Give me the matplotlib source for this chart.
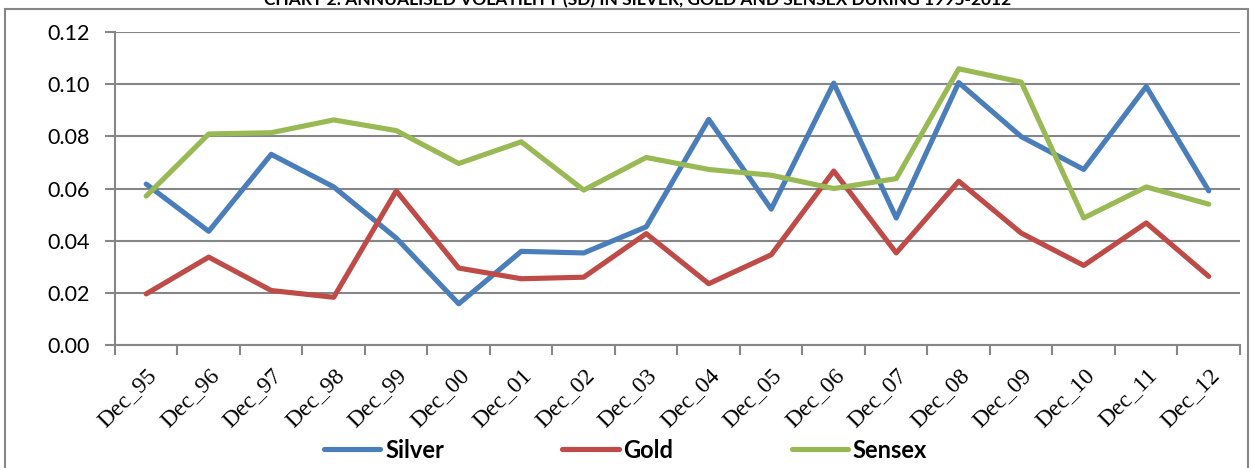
import numpy as np
import matplotlib
matplotlib.use("Agg")
import matplotlib.pyplot as plt
from matplotlib.patches import Rectangle
from matplotlib.transforms import ScaledTranslation

# category labels and annualised volatility (SD) values
years = ["Dec_95", "Dec_96", "Dec_97", "Dec_98", "Dec_99", "Dec_00", "Dec_01",
         "Dec_02", "Dec_03", "Dec_04", "Dec_05", "Dec_06", "Dec_07", "Dec_08",
         "Dec_09", "Dec_10", "Dec_11", "Dec_12"]
silver = [0.0617, 0.0436, 0.0731, 0.0606, 0.0410, 0.0158, 0.0359, 0.0353, 0.0453,
          0.0865, 0.0521, 0.1004, 0.0487, 0.1006, 0.0799, 0.0673, 0.0991, 0.0591]
gold = [0.0196, 0.0337, 0.0209, 0.0183, 0.0591, 0.0295, 0.0254, 0.0260, 0.0427,
        0.0235, 0.0346, 0.0667, 0.0353, 0.0628, 0.0429, 0.0305, 0.0468, 0.0263]
sensex = [0.0571, 0.0809, 0.0814, 0.0863, 0.0822, 0.0696, 0.0779, 0.0594, 0.0719,
          0.0673, 0.0651, 0.0600, 0.0638, 0.1059, 0.1008, 0.0487, 0.0606, 0.0540]
yticks = [0.00, 0.02, 0.04, 0.06, 0.08, 0.10, 0.12]

fig = plt.figure(figsize=(12.51, 4.68), dpi=100)
ax = fig.add_axes([0.0919, 0.2628, 0.8993, 0.6688])

x = np.arange(len(years))
grey = "#868686"
ax.plot(x, silver, color="#4A7EBB", lw=3.7, label="Silver", solid_capstyle="round")
ax.plot(x, gold, color="#BE4B48", lw=3.7, label="Gold", solid_capstyle="round")
ax.plot(x, sensex, color="#98B954", lw=3.7, label="Sensex", solid_capstyle="round")

ax.set_xlim(-0.5, len(years) - 0.5)
ax.set_ylim(0, 0.12)
ax.set_yticks(yticks)
ax.set_yticklabels(["%.2f" % v for v in yticks], fontfamily="Lato", fontsize=15.5)
ax.yaxis.grid(True, color=grey, lw=1.5)
ax.set_axisbelow(True)
ax.tick_params(axis="y", length=7, width=1.5, color=grey, pad=11)

# labels on categories, tick marks between them
ax.set_xticks(x)
ax.set_xticklabels(years, rotation=45, ha="right", rotation_mode="anchor",
                   fontfamily="Liberation Serif", fontsize=17)
shift = ScaledTranslation(5 / 100, 0, fig.dpi_scale_trans)
for lbl in ax.get_xticklabels():
    lbl.set_transform(lbl.get_transform() + shift)
ax.set_xticks(np.arange(-0.5, len(years)), minor=True)
ax.tick_params(axis="x", which="major", length=0, pad=14)
ax.tick_params(axis="x", which="minor", length=7, width=1.5, color=grey)

for side in ["top", "right"]:
    ax.spines[side].set_visible(False)
for side in ["left", "bottom"]:
    ax.spines[side].set_color(grey)
    ax.spines[side].set_linewidth(1.5)

fig.legend(loc="center", bbox_to_anchor=(0.5, 0.038), ncol=3, frameon=False,
           handlelength=2.4, columnspacing=5.0, handletextpad=0.2,
           prop={"family": "Lato", "weight": "bold", "size": 17})

fig.text(0.51, 1.0, "CHART 2: ANNUALISED VOLATILITY (SD) IN SILVER, GOLD AND SENSEX DURING 1995-2012",
         ha="center", va="center", fontfamily="Lato", fontweight="bold", fontsize=12.5)

fig.patches.append(Rectangle((5 / 1251, -0.05), 1243 / 1251, 1.05 - 9 / 468,
                             transform=fig.transFigure, fill=False,
                             edgecolor=grey, lw=1.5))

fig.savefig("out.png", dpi=100)
